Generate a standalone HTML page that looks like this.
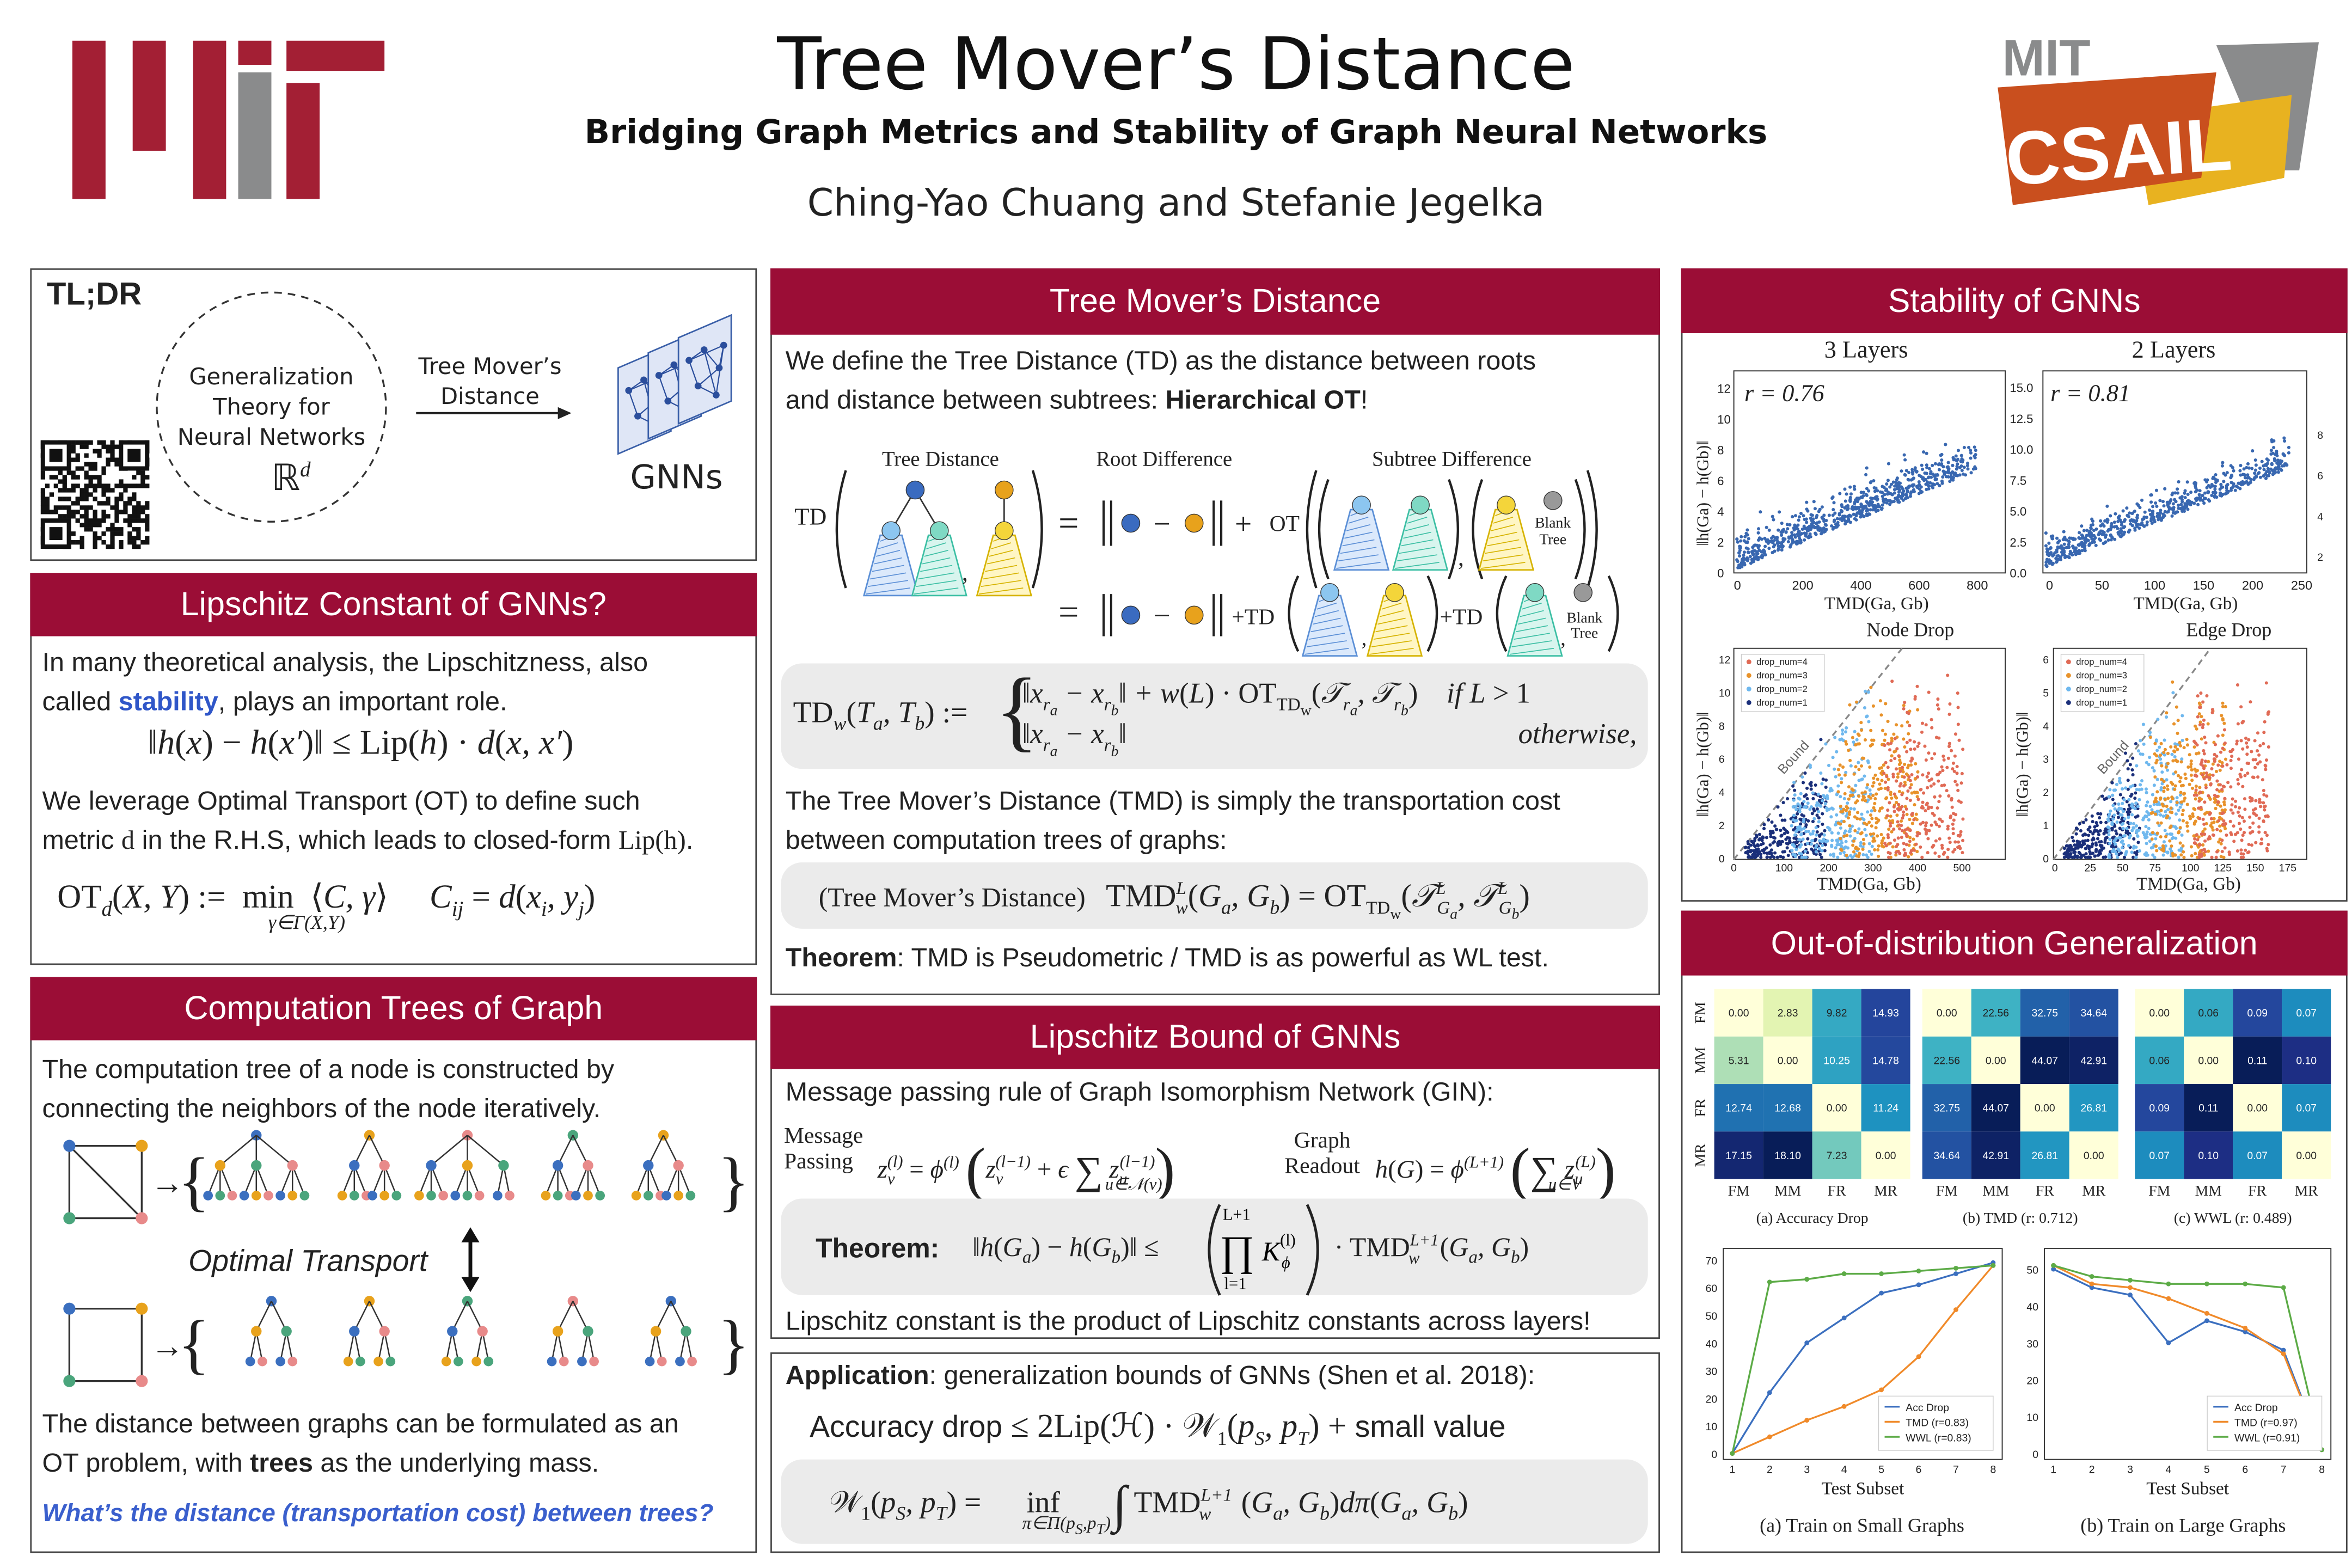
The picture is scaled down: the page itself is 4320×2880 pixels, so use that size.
<!DOCTYPE html>
<html><head><meta charset="utf-8">
<style>
html,body{margin:0;padding:0;background:#fff;width:4320px;height:2880px;overflow:hidden}
#p{position:absolute;left:0;top:0;width:1560px;height:1040px;transform:scale(2.76923);transform-origin:0 0;font-family:"Liberation Sans",sans-serif;color:#222}
.a{position:absolute;white-space:nowrap}
.box{position:absolute;border:1.6px solid #444;background:#fff;box-sizing:border-box}
.hd{position:absolute;background:#9b0d36;color:#fff;font-size:22px;text-align:center;box-sizing:border-box}
.t{font-size:17.5px;color:#222}
.m{font-family:"Liberation Serif",serif}
.i{font-style:italic}
.gb{position:absolute;background:#ebebeb;border-radius:14px}
svg{position:absolute;overflow:visible}
</style></head><body><div id="p">

<!-- MIT logo -->
<div class="a" style="left:48px;top:27px;width:22px;height:105px;background:#a31f34"></div>
<div class="a" style="left:88px;top:27px;width:22px;height:73px;background:#a31f34"></div>
<div class="a" style="left:128px;top:27px;width:22px;height:105px;background:#a31f34"></div>
<div class="a" style="left:158px;top:27px;width:22px;height:16px;background:#a31f34"></div>
<div class="a" style="left:158px;top:48px;width:22px;height:84px;background:#8a8b8c"></div>
<div class="a" style="left:190px;top:27px;width:65px;height:20px;background:#a31f34"></div>
<div class="a" style="left:190px;top:55px;width:22px;height:77px;background:#a31f34"></div>

<!-- Title -->
<div class="a" style="left:0;width:1560px;top:15px;text-align:center;font-size:48px;font-family:'DejaVu Sans',sans-serif;color:#111">Tree Mover’s Distance</div>
<div class="a" style="left:0;width:1560px;top:76px;text-align:center;font-size:22px;font-weight:bold;font-family:'DejaVu Sans',sans-serif;color:#111">Bridging Graph Metrics and Stability of Graph Neural Networks</div>
<div class="a" style="left:0;width:1560px;top:120px;text-align:center;font-size:25px;font-family:'DejaVu Sans',sans-serif;color:#222">Ching-Yao Chuang and Stefanie Jegelka</div>

<!-- CSAIL logo -->
<svg style="left:1320px;top:18px" width="225" height="122">
<text x="8" y="32" font-size="34" font-weight="bold" fill="#8a8b8c" font-family="Liberation Sans">MIT</text>
<polygon points="150,12 218,10 205,95 185,95" fill="#8a8b8c"/>
<polygon points="95,60 200,45 195,100 105,118" fill="#e8b220"/>
<polygon points="5,40 150,30 140,100 15,118" fill="#c94f1e"/>
<text x="10" y="100" font-size="50" font-weight="bold" fill="#fff" font-family="Liberation Sans" transform="rotate(-4 80 80)">CSAIL</text>
</svg>

<!-- TL;DR -->
<div class="box" style="left:20px;top:178px;width:482px;height:194px"></div>
<div class="a" style="left:31px;top:184px;font-size:21px;font-weight:bold">TL;DR</div>
<svg style="left:100px;top:190px" width="160" height="160"><circle cx="80" cy="80" r="76" fill="none" stroke="#333" stroke-width="1.2" stroke-dasharray="5,4"/></svg>
<div class="a" style="left:100px;top:240px;width:160px;text-align:center;font-size:15px;line-height:20px;font-family:'DejaVu Sans',sans-serif">Generalization<br>Theory for<br>Neural Networks</div>
<div class="a m" style="left:180px;top:303px;font-size:24px">ℝ<sup style="font-size:14px" class="i">d</sup></div>
<div class="a" style="left:270px;top:233px;width:110px;text-align:center;font-size:15px;line-height:20px;font-family:'DejaVu Sans',sans-serif">Tree Mover’s<br>Distance</div>
<svg style="left:276px;top:268px" width="105" height="12"><line x1="0" y1="6" x2="96" y2="6" stroke="#222" stroke-width="1.5"/><polygon points="103,6 94,2 94,10" fill="#222"/></svg>
<svg style="left:405px;top:212px" width="85" height="90" id="gnn"></svg>
<div class="a" style="left:418px;top:305px;font-size:22px;font-family:'DejaVu Sans',sans-serif">GNNs</div>
<svg style="left:27px;top:292px" width="72" height="72" id="qr"></svg>

<!-- Lipschitz Constant -->
<div class="box" style="left:20px;top:380px;width:482px;height:260px"></div>
<div class="hd" style="left:20px;top:380px;width:482px;height:42px;line-height:42px">Lipschitz Constant of GNNs?</div>
<div class="a t" style="left:28px;top:426px;line-height:26px">In many theoretical analysis, the Lipschitzness, also<br>called <b style="color:#2f56c8">stability</b>, plays an important role.</div>
<div class="a m" style="left:98px;top:480px;font-size:23px"><span class="i">‖h</span>(<span class="i">x</span>) − <span class="i">h</span>(<span class="i">x′</span>)‖ ≤ Lip(<span class="i">h</span>) · <span class="i">d</span>(<span class="i">x, x′</span>)</div>
<div class="a t" style="left:28px;top:518px;line-height:26px">We leverage Optimal Transport (OT) to define such<br>metric <span class="m">d</span> in the R.H.S, which leads to closed-form <span class="m">Lip(h)</span>.</div>
<div class="a m" style="left:38px;top:582px;font-size:22px">OT<sub style="font-size:14px" class="i">d</sub>(<span class="i">X, Y</span>) := &nbsp;min &nbsp;⟨<span class="i">C, γ</span>⟩ &nbsp;&nbsp;&nbsp;&nbsp;<span class="i">C<sub style="font-size:14px">ij</sub></span> = <span class="i">d</span>(<span class="i">x<sub style="font-size:14px">i</sub>, y<sub style="font-size:14px">j</sub></span>)</div>
<div class="a m i" style="left:178px;top:604px;font-size:13px">γ∈Γ(X,Y)</div>

<!-- Computation Trees -->
<div class="box" style="left:20px;top:648px;width:482px;height:382px"></div>
<div class="hd" style="left:20px;top:648px;width:482px;height:42px;line-height:42px">Computation Trees of Graph</div>
<div class="a t" style="left:28px;top:696px;line-height:26px">The computation tree of a node is constructed by<br>connecting the neighbors of the node iteratively.</div>
<svg style="left:30px;top:748px" width="470" height="180" id="ctree"></svg>
<div class="a i" style="left:125px;top:826px;font-size:20px;font-family:'Liberation Sans',sans-serif">Optimal Transport</div>
<div class="a t" style="left:28px;top:931px;line-height:26px">The distance between graphs can be formulated as an<br>OT problem, with <b>trees</b> as the underlying mass.</div>
<div class="a" style="left:28px;top:995px;font-size:16.5px;font-weight:bold;font-style:italic;color:#3a5fcd">What’s the distance (transportation cost) between trees?</div>

<!-- TMD box -->
<div class="box" style="left:511px;top:178px;width:590px;height:482px"></div>
<div class="hd" style="left:511px;top:178px;width:590px;height:44px;line-height:44px">Tree Mover’s Distance</div>
<div class="a t" style="left:521px;top:226px;line-height:26px">We define the Tree Distance (TD) as the distance between roots<br>and distance between subtrees: <b>Hierarchical OT</b>!</div>
<svg style="left:515px;top:290px" width="585" height="145" id="tdfig"></svg>
<div class="gb" style="left:518px;top:440px;width:575px;height:70px"></div>
<div class="a m" style="left:526px;top:462px;font-size:20px">TD<sub style="font-size:13px" class="i">w</sub>(<span class="i">T<sub style="font-size:13px">a</sub>, T<sub style="font-size:13px">b</sub></span>) :=</div>
<div class="a m" style="left:660px;top:436px;font-size:60px;line-height:70px">{</div>
<div class="a m" style="left:678px;top:450px;font-size:19px"><span class="i">‖x<sub style="font-size:12px">r<sub>a</sub></sub> − x<sub style="font-size:12px">r<sub>b</sub></sub>‖ + w</span>(<span class="i">L</span>) · OT<sub style="font-size:12px">TD<sub>w</sub></sub>(<span class="i">𝒯<sub style="font-size:12px">r<sub>a</sub></sub>, 𝒯<sub style="font-size:12px">r<sub>b</sub></sub></span>) &nbsp;&nbsp;&nbsp;<span class="i">if L</span> &gt; 1</div>
<div class="a m i" style="left:678px;top:477px;font-size:19px">‖x<sub style="font-size:12px">r<sub>a</sub></sub> − x<sub style="font-size:12px">r<sub>b</sub></sub>‖</div>
<div class="a m i" style="left:1007px;top:477px;font-size:19px">otherwise,</div>
<div class="a t" style="left:521px;top:518px;line-height:26px">The Tree Mover’s Distance (TMD) is simply the transportation cost<br>between computation trees of graphs:</div>
<div class="gb" style="left:518px;top:572px;width:575px;height:44px"></div>
<div class="a m" style="left:543px;top:582px;font-size:18px">(Tree Mover’s Distance) &nbsp;&nbsp;<span style="font-size:21px">TMD<sup style="font-size:12px" class="i">L</sup><sub style="font-size:12px;margin-left:-7px" class="i">w</sub>(<span class="i">G<sub style="font-size:13px">a</sub>, G<sub style="font-size:13px">b</sub></span>) = OT<sub style="font-size:12px">TD<sub>w</sub></sub>(<span class="i">𝒯<sup style="font-size:12px">L</sup><sub style="font-size:12px;margin-left:-6px">G<sub>a</sub></sub>, 𝒯<sup style="font-size:12px">L</sup><sub style="font-size:12px;margin-left:-6px">G<sub>b</sub></sub></span>)</span></div>
<div class="a t" style="left:521px;top:625px"><b>Theorem</b>: TMD is Pseudometric / TMD is as powerful as WL test.</div>

<!-- Lipschitz Bound -->
<div class="box" style="left:511px;top:667px;width:590px;height:221px"></div>
<div class="hd" style="left:511px;top:667px;width:590px;height:42px;line-height:42px">Lipschitz Bound of GNNs</div>
<div class="a t" style="left:521px;top:714px">Message passing rule of Graph Isomorphism Network (GIN):</div>
<div class="a m" style="left:520px;top:746px;font-size:15px;line-height:17px">Message<br>Passing</div>
<div class="a m" style="left:582px;top:752px;font-size:17px"><span class="i">z<sub style="font-size:11px">v</sub><sup style="font-size:11px;margin-left:-5px">(l)</sup></span> = <span class="i">ϕ<sup style="font-size:11px">(l)</sup></span> <span style="font-size:40px;vertical-align:-8px">(</span><span class="i">z<sub style="font-size:11px">v</sub><sup style="font-size:11px;margin-left:-5px">(l−1)</sup></span> + <span class="i">ϵ</span> <span style="font-size:26px;vertical-align:-4px">∑</span> <span class="i">z<sub style="font-size:11px">u</sub><sup style="font-size:11px;margin-left:-5px">(l−1)</sup></span><span style="font-size:40px;vertical-align:-8px">)</span></div>
<div class="a m i" style="left:733px;top:779px;font-size:11px">u∈𝒩(v)</div>
<div class="a m" style="left:852px;top:749px;font-size:15px;line-height:17px;text-align:center">Graph<br>Readout</div>
<div class="a m" style="left:912px;top:752px;font-size:17px"><span class="i">h</span>(<span class="i">G</span>) = <span class="i">ϕ<sup style="font-size:11px">(L+1)</sup></span> <span style="font-size:40px;vertical-align:-8px">(</span><span style="font-size:26px;vertical-align:-4px">∑</span> <span class="i">z<sub style="font-size:11px">u</sub><sup style="font-size:11px;margin-left:-5px">(L)</sup></span><span style="font-size:40px;vertical-align:-8px">)</span></div>
<div class="a m i" style="left:1027px;top:779px;font-size:11px">u∈V</div>
<div class="gb" style="left:518px;top:795px;width:575px;height:64px"></div>
<div class="a" style="left:541px;top:818px;font-size:18px;font-weight:bold">Theorem:</div>
<div class="a m" style="left:645px;top:817px;font-size:18px"><span class="i">‖h</span>(<span class="i">G<sub style="font-size:12px">a</sub></span>) − <span class="i">h</span>(<span class="i">G<sub style="font-size:12px">b</sub></span>)‖ ≤</div>
<svg style="left:795px;top:797px" width="90" height="64">
<path d="M14,2 Q0,32 14,62" fill="none" stroke="#222" stroke-width="1.8"/>
<path d="M72,2 Q86,32 72,62" fill="none" stroke="#222" stroke-width="1.8"/>
<text x="16" y="12" font-size="11" font-family="Liberation Serif">L+1</text>
<text x="14" y="42" font-size="28" font-family="Liberation Serif">∏</text>
<text x="17" y="58" font-size="11" font-family="Liberation Serif">l=1</text>
<text x="42" y="39" font-size="18" font-style="italic" font-family="Liberation Serif">K</text>
<text x="55" y="44" font-size="11" font-style="italic" font-family="Liberation Serif">ϕ</text>
<text x="54" y="29" font-size="11" font-family="Liberation Serif">(l)</text>
</svg>
<div class="a m" style="left:885px;top:817px;font-size:18px">· TMD<sup style="font-size:11px" class="i">L+1</sup><sub style="font-size:11px;margin-left:-20px" class="i">w</sub>&nbsp;&nbsp;&nbsp;(<span class="i">G<sub style="font-size:12px">a</sub>, G<sub style="font-size:12px">b</sub></span>)</div>
<div class="a t" style="left:521px;top:866px">Lipschitz constant is the product of Lipschitz constants across layers!</div>

<!-- Application -->
<div class="box" style="left:511px;top:897px;width:590px;height:133px"></div>
<div class="a t" style="left:521px;top:902px"><b>Application</b>: generalization bounds of GNNs (Shen et al. 2018):</div>
<div class="a" style="left:537px;top:933px;font-size:20px">Accuracy drop <span class="m" style="font-size:22px">≤ 2Lip(ℋ) · 𝒲<sub style="font-size:13px">1</sub>(<span class="i">p<sub style="font-size:13px">S</sub>, p<sub style="font-size:13px">T</sub></span>) +</span> small value</div>
<div class="gb" style="left:518px;top:968px;width:575px;height:56px"></div>
<div class="a m" style="left:550px;top:980px;font-size:20px">𝒲<sub style="font-size:13px">1</sub>(<span class="i">p<sub style="font-size:13px">S</sub>, p<sub style="font-size:13px">T</sub></span>) = &nbsp;&nbsp;&nbsp;&nbsp;&nbsp;inf &nbsp;&nbsp;&nbsp;&nbsp;&nbsp;&nbsp;<span style="font-size:34px;vertical-align:-6px">∫</span> TMD<sup style="font-size:12px" class="i">L+1</sup><sub style="font-size:12px;margin-left:-22px" class="i">w</sub>&nbsp;&nbsp;&nbsp;&nbsp;(<span class="i">G<sub style="font-size:13px">a</sub>, G<sub style="font-size:13px">b</sub></span>)<span class="i">dπ</span>(<span class="i">G<sub style="font-size:13px">a</sub>, G<sub style="font-size:13px">b</sub></span>)</div>
<div class="a m i" style="left:678px;top:1003px;font-size:12px">π∈Π(p<sub>S</sub>,p<sub>T</sub>)</div>

<!-- Stability -->
<div class="box" style="left:1115px;top:178px;width:442px;height:420px"></div>
<div class="hd" style="left:1115px;top:178px;width:442px;height:43px;line-height:43px">Stability of GNNs</div>
<svg style="left:1115px;top:222px" width="442" height="375" id="stab"></svg>

<!-- OOD -->
<div class="box" style="left:1115px;top:604px;width:442px;height:426px"></div>
<div class="hd" style="left:1115px;top:604px;width:442px;height:43px;line-height:43px">Out-of-distribution Generalization</div>
<svg style="left:1115px;top:648px" width="442" height="380" id="ood"></svg>

</div>
<script>
const NS="http://www.w3.org/2000/svg";
function E(p,t,a,txt){const e=document.createElementNS(NS,t);for(const k in a)e.setAttribute(k,a[k]);if(txt!==undefined)e.textContent=txt;p.appendChild(e);return e;}
let seed=7;function R(){seed=(seed*16807)%2147483647;return seed/2147483647;}
function G(){return (R()+R()+R()+R()-2)*0.87;}

(function(){const s=document.getElementById('gnn');
for(let k=0;k<3;k++){const ox=k*20,oy=k*-10+12;
E(s,'polygon',{points:`${ox+5},${oy+20} ${ox+40},${oy+5} ${ox+40},${oy+62} ${ox+5},${oy+77}`,fill:'#dfe6f6',stroke:'#3a5fa8','stroke-width':1});
const pts=[[12,35],[22,28],[32,40],[18,52],[30,58],[35,25]];
pts.forEach((p,i)=>{pts.forEach((q,j)=>{if(j>i&&(i+j)%2)E(s,'line',{x1:ox+p[0],y1:oy+p[1],x2:ox+q[0],y2:oy+q[1],stroke:'#2b4e9c','stroke-width':0.8})})});
pts.forEach(p=>E(s,'circle',{cx:ox+p[0],cy:oy+p[1],r:2.3,fill:'#2b4e9c'}));}})();

(function(){const s=document.getElementById('qr');seed=99;
E(s,'rect',{x:0,y:0,width:72,height:72,fill:'#fff'});
const n=25,c=72/n;
for(let i=0;i<n;i++)for(let j=0;j<n;j++){if(R()<0.5)E(s,'rect',{x:i*c,y:j*c,width:c+0.1,height:c+0.1,fill:'#111'});}
[[0,0],[18,0],[0,18]].forEach(([a,b])=>{E(s,'rect',{x:a*c,y:b*c,width:7*c,height:7*c,fill:'#111'});E(s,'rect',{x:(a+1)*c,y:(b+1)*c,width:5*c,height:5*c,fill:'#fff'});E(s,'rect',{x:(a+2)*c,y:(b+2)*c,width:3*c,height:3*c,fill:'#111'});});})();

(function(){const s=document.getElementById('ctree');
const col={b:'#3b6fbf',o:'#e8a21c',g:'#4aa57c',p:'#e88a8a'};
function graph(ox,oy,diag){E(s,'rect',{x:ox,y:oy,width:48,height:48,fill:'none',stroke:'#333','stroke-width':1.2});
if(diag)E(s,'line',{x1:ox,y1:oy,x2:ox+48,y2:oy+48,stroke:'#333','stroke-width':1.2});
E(s,'circle',{cx:ox,cy:oy,r:4,fill:col.b});E(s,'circle',{cx:ox+48,cy:oy,r:4,fill:col.o});E(s,'circle',{cx:ox,cy:oy+48,r:4,fill:col.g});E(s,'circle',{cx:ox+48,cy:oy+48,r:4,fill:col.p});}
function tree(cx,y,root,kids,gk){E(s,'circle',{cx:cx,cy:y,r:3.5,fill:col[root]});
const n=kids.length,w=n==3?24:20;kids.forEach((k,i)=>{const x=cx+(i-(n-1)/2)*w;E(s,'line',{x1:cx,y1:y,x2:x,y2:y+20,stroke:'#333','stroke-width':0.9});
const g=gk[i];g.forEach((q,j)=>{const xx=x+(j-(g.length-1)/2)*8;E(s,'line',{x1:x,y1:y+20,x2:xx,y2:y+40,stroke:'#333','stroke-width':0.9});E(s,'circle',{cx:xx,cy:y+40,r:3.2,fill:col[q]});});
E(s,'circle',{cx:x,cy:y+20,r:3.5,fill:col[k]});});}
graph(16,12,true);
E(s,'text',{x:70,y:44,'font-size':22,fill:'#222'},'→');E(s,'text',{x:88,y:50,'font-size':44,fill:'#222','font-family':'Liberation Serif'},'{');E(s,'text',{x:446,y:50,'font-size':44,fill:'#222','font-family':'Liberation Serif'},'}');
tree(140,5,'b',['o','g','p'],[['b','g','p'],['b','o','p'],['b','o','g']]);
tree(215,5,'o',['b','p'],[['o','g','p'],['b','o','g']]);
tree(280,5,'p',['b','o','g'],[['o','g','p'],['b','g','p'],['b','p']]);
tree(350,5,'g',['b','p'],[['o','g','p'],['b','o','g']]);
tree(410,5,'o',['b','p'],[['o','g','p'],['b','o','g']]);
graph(16,120,false);
E(s,'text',{x:70,y:152,'font-size':22,fill:'#222'},'→');E(s,'text',{x:88,y:158,'font-size':44,fill:'#222','font-family':'Liberation Serif'},'{');E(s,'text',{x:446,y:158,'font-size':44,fill:'#222','font-family':'Liberation Serif'},'}');
tree(150,115,'b',['o','g'],[['b','p'],['b','p']]);
tree(215,115,'o',['b','p'],[['o','g'],['o','g']]);
tree(280,115,'g',['b','p'],[['o','g'],['o','g']]);
tree(350,115,'p',['o','g'],[['b','p'],['b','p']]);
tree(415,115,'b',['o','g'],[['b','p'],['b','p']]);
E(s,'line',{x1:282,y1:72,x2:282,y2:103,stroke:'#111','stroke-width':2.5});
E(s,'polygon',{points:'282,66 276,76 288,76',fill:'#111'});E(s,'polygon',{points:'282,109 276,99 288,99',fill:'#111'});})();

(function(){const s=document.getElementById('tdfig');
const F='Liberation Serif';
function T(x,y,t,sz,extra){return E(s,'text',Object.assign({x:x,y:y,'font-size':sz||15,'font-family':F,fill:'#222'},extra||{}),t);}
T(70,19,'Tree Distance',14);T(212,19,'Root Difference',14);T(395,19,'Subtree Difference',14);
T(12,58,'TD',16);
function par(x,y,h,open){const d=open?`M${x+8},${y} Q${x-4},${y+h/2} ${x+8},${y+h}`:`M${x},${y} Q${x+12},${y+h/2} ${x},${y+h}`;E(s,'path',{d:d,fill:'none',stroke:'#222','stroke-width':1.6});}
function cone(cx,top,c,fill,w){w=w||18;E(s,'polygon',{points:`${cx-w*0.4},${top} ${cx+w*0.4},${top} ${cx+w},${top+40} ${cx-w},${top+40}`,fill:fill,stroke:c,'stroke-width':1});
for(let i=0;i<8;i++){const y=top+5*i;E(s,'line',{x1:cx-w*(0.4+0.6*i/8),y1:y+4,x2:cx+w*(0.4+0.6*i/8)-4,y2:y,stroke:c,'stroke-width':0.6});}}
function dot(x,y,c){E(s,'circle',{cx:x,cy:y,r:6,fill:c,stroke:'#333','stroke-width':0.5});}
const B='#3a6bc0',O='#e8a21c',LB='#8cc6f0',TL='#7fd9c4',Y='#f4d53a',GR='#999';
par(38,22,78,true);
E(s,'line',{x1:92,y1:35,x2:76,y2:62,stroke:'#333'});E(s,'line',{x1:92,y1:35,x2:108,y2:62,stroke:'#333'});
cone(76,65,'#5b8fd6','#dbe9fb');cone(108,65,'#3cbfa4','#d8f5ee');dot(92,35,B);dot(76,62,LB);dot(108,62,TL);
T(123,95,',',16);
E(s,'line',{x1:151,y1:35,x2:151,y2:62,stroke:'#333'});cone(151,65,'#d6b300','#fff6c4');dot(151,35,O);dot(151,62,Y);
par(170,22,78,false);
T(187,65,'=',24);
E(s,'line',{x1:217,y1:42,x2:217,y2:72,stroke:'#222','stroke-width':1.5});E(s,'line',{x1:222,y1:42,x2:222,y2:72,stroke:'#222','stroke-width':1.5});
dot(235,57,B);T(250,64,'−',20);dot(277,57,O);
E(s,'line',{x1:290,y1:42,x2:290,y2:72,stroke:'#222','stroke-width':1.5});E(s,'line',{x1:295,y1:42,x2:295,y2:72,stroke:'#222','stroke-width':1.5});
T(304,64,'+',20);T(327,62,'OT',15);
par(350,22,78,true);par(358,28,66,true);
cone(388,48,'#5b8fd6','#dbe9fb');dot(388,45,LB);cone(427,48,'#3cbfa4','#d8f5ee');dot(427,45,TL);
par(446,28,66,false);T(452,85,',',16);par(460,28,66,true);
cone(484,48,'#d6b300','#fff6c4');dot(484,45,Y);dot(515,42,GR);T(503,60,'Blank',10);T(506,71,'Tree',10);
par(530,28,66,false);par(538,22,78,false);
T(187,124,'=',24);
E(s,'line',{x1:217,y1:104,x2:217,y2:132,stroke:'#222','stroke-width':1.5});E(s,'line',{x1:222,y1:104,x2:222,y2:132,stroke:'#222','stroke-width':1.5});
dot(235,118,B);T(250,125,'−',20);dot(277,118,O);
E(s,'line',{x1:290,y1:104,x2:290,y2:132,stroke:'#222','stroke-width':1.5});E(s,'line',{x1:295,y1:104,x2:295,y2:132,stroke:'#222','stroke-width':1.5});
T(302,124,'+TD',15);par(338,92,50,true);cone(367,105,'#5b8fd6','#dbe9fb');dot(367,103,LB);T(388,138,',',14);cone(410,105,'#d6b300','#fff6c4');dot(410,103,Y);par(432,92,50,false);
T(440,124,'+TD',15);par(476,92,50,true);cone(503,105,'#3cbfa4','#d8f5ee');dot(503,103,TL);T(520,138,',',14);dot(535,103,GR);T(524,123,'Blank',10);T(527,133,'Tree',10);par(552,92,50,false);})();

const stops=['#ffffd9','#edf8b1','#c7e9b4','#7fcdbb','#41b6c4','#1d91c0','#225ea8','#253494','#081d58'].map(h=>[parseInt(h.substr(1,2),16),parseInt(h.substr(3,2),16),parseInt(h.substr(5,2),16)]);
function cm(t){t=Math.max(0,Math.min(1,t))*8;const i=Math.min(7,Math.floor(t)),f=t-i;const a=stops[i],b=stops[i+1];return `rgb(${a.map((v,k)=>Math.round(v+(b[k]-v)*f)).join(',')})`;}

(function(){const s=document.getElementById('stab');const F='Liberation Serif';
function T(x,y,t,sz,ex){return E(s,'text',Object.assign({x:x,y:y,'font-size':sz,'font-family':F,fill:'#222'},ex||{}),t);}
T(95,15,'3 Layers',16);T(299,15,'2 Layers',16);
function axes(x,y,w,h){E(s,'rect',{x:x,y:y,width:w,height:h,fill:'#fff',stroke:'#333','stroke-width':0.7});}
seed=11;axes(35,24,180,134);
for(let i=0;i<700;i++){const u=Math.pow(R(),1.1);const v=Math.max(0.02,Math.min(0.97,u*0.5+Math.abs(G())*0.16+0.02));E(s,'circle',{cx:37+u*0.9*176,cy:24+134-v*130,r:1.1,fill:'#3867b0'});}
T(42,44,'r = 0.76',16,{'font-style':'italic'});
[[0,'0'],[200,'200'],[400,'400'],[600,'600'],[800,'800']].forEach(([v,l])=>T(43+v*0.193-8,169,l,8.5,{'font-family':'Liberation Sans'}));
[0,2,4,6,8,10,12].forEach(v=>T(24,158-v*10.2+3,String(v),8,{'font-family':'Liberation Sans'}));
T(95,182,'TMD(Ga, Gb)',12);
T(0,0,'‖h(Ga) − h(Gb)‖',11,{transform:'translate(18,140) rotate(-90)'});
axes(240,24,175,134);
for(let i=0;i<600;i++){const u=Math.pow(R(),1.2);const v=Math.max(0.02,Math.min(0.97,u*0.5+Math.abs(G())*0.14+0.03));E(s,'circle',{cx:242+u*0.95*170,cy:158-v*130,r:1.1,fill:'#3867b0'});}
T(245,44,'r = 0.81',16,{'font-style':'italic'});
['0','50','100','150','200','250'].forEach((l,i)=>T(247+i*32.5-5,169,l,8.5,{'font-family':'Liberation Sans'}));
['0.0','2.5','5.0','7.5','10.0','12.5','15.0'].forEach((l,i)=>T(218,158-i*20.5+3,l,8,{'font-family':'Liberation Sans'}));
[2,4,6,8].forEach((l,i)=>T(422,150-i*27,String(l),7,{'font-family':'Liberation Sans'}));
T(300,182,'TMD(Ga, Gb)',12);
T(123,200,'Node Drop',13);T(335,200,'Edge Drop',13);
function bot(x,w,sd){seed=sd;axes(x,208,w,140);
E(s,'line',{x1:x,y1:348,x2:x+w*0.62,y2:208,stroke:'#888','stroke-dasharray':'4,3','stroke-width':1.2});
const cols=['#1a2f7a','#6fb8ee','#e8922a','#e06a55'];
for(let c=0;c<4;c++)for(let i=0;i<260;i++){const u=0.05+c*0.2+R()*0.35;const lim=(u/0.62);let v=Math.max(0.01,R()*Math.min(lim,0.9)*(0.4+0.6*R()));E(s,'circle',{cx:x+Math.min(0.97,u*0.85)*w,cy:348-v*138,r:1.1,fill:cols[c]});}
E(s,'rect',{x:x+5,y:212,width:55,height:38,fill:'#fff',stroke:'#ccc','stroke-width':0.5});
['drop_num=4','drop_num=3','drop_num=2','drop_num=1'].forEach((l,i)=>{E(s,'circle',{cx:x+10,cy:217+i*9,r:1.6,fill:cols[3-i]});T(x+15,219+i*9,l,6,{'font-family':'Liberation Sans'});});
T(0,0,'Bound',9,{'font-family':'Liberation Sans',fill:'#666',transform:`translate(${x+33},${292}) rotate(-48)`});
T(0,0,'‖h(Ga) − h(Gb)‖',11,{transform:`translate(${x-17},${320}) rotate(-90)`});
T(x+55,368,'TMD(Ga, Gb)',12);}
bot(35,180,21);bot(247,168,33);
['0','100','200','300','400','500'].forEach((l,i)=>T(33+i*29.5,356,l,7,{'font-family':'Liberation Sans'}));
['0','25','50','75','100','125','150','175'].forEach((l,i)=>T(246+i*21.5,356,l,7,{'font-family':'Liberation Sans'}));
['0','2','4','6','8','10','12'].forEach((l,i)=>T(25,350-i*22,l,7,{'font-family':'Liberation Sans'}));
['0','1','2','3','4','5','6'].forEach((l,i)=>T(240,350-i*22,l,7,{'font-family':'Liberation Sans'}));})();

(function(){const s=document.getElementById('ood');const F='Liberation Serif';
function T(x,y,t,sz,ex){return E(s,'text',Object.assign({x:x,y:y,'font-size':sz,'font-family':F,fill:'#222'},ex||{}),t);}
const D=[[[0,2.83,9.82,14.93],[5.31,0,10.25,14.78],[12.74,12.68,0,11.24],[17.15,18.10,7.23,0]],
[[0,22.56,32.75,34.64],[22.56,0,44.07,42.91],[32.75,44.07,0,26.81],[34.64,42.91,26.81,0]],
[[0,.06,.09,.07],[.06,0,.11,.10],[.09,.11,0,.07],[.07,.10,.07,0]]];
const mx=[18.1,44.07,0.11],xs=[22,160,301],labs=['FM','MM','FR','MR'],caps=['(a) Accuracy Drop','(b) TMD (r: 0.712)','(c) WWL (r: 0.489)'];
D.forEach((m,k)=>{const ox=xs[k],cw=32.5,ch=31.5;m.forEach((r,i)=>r.forEach((v,j)=>{const t=v/mx[k];E(s,'rect',{x:ox+j*cw,y:8+i*ch,width:cw,height:ch,fill:cm(t)});
T(ox+j*cw+cw/2,8+i*ch+ch/2+2.5,v.toFixed(2),7,{'text-anchor':'middle','font-family':'Liberation Sans',fill:t>0.55?'#fff':'#222'});}));
labs.forEach((l,i)=>{T(ox+i*cw+cw/2,145,l,10,{'text-anchor':'middle'});if(k==0)T(0,0,l,10,{'text-anchor':'middle',transform:`translate(${ox-6},${8+i*ch+ch/2}) rotate(-90)`});});
T(ox+65,163,caps[k],10,{'text-anchor':'middle'});});
function lc(ox,w,ymax,yt,data,leg){const oy=180,h=140;E(s,'rect',{x:ox,y:oy,width:w,height:h,fill:'#fff',stroke:'#333','stroke-width':0.7});
const X=i=>ox+6+i*(w-12)/7,Y=v=>oy+h-4-v*(h-8)/ymax;
const cols=['#3b6fbf','#f08a2a','#5cab46'];
data.forEach((d,c)=>{E(s,'polyline',{points:d.map((v,i)=>X(i)+','+Y(v)).join(' '),fill:'none',stroke:cols[c],'stroke-width':1.2});d.forEach((v,i)=>E(s,'circle',{cx:X(i),cy:Y(v),r:1.6,fill:cols[c]}));});
yt.forEach(v=>T(ox-4,Y(v)+3,String(v),7,{'text-anchor':'end','font-family':'Liberation Sans'}));
for(let i=0;i<8;i++)T(X(i),oy+h+9,String(i+1),7,{'text-anchor':'middle','font-family':'Liberation Sans'});
E(s,'rect',{x:ox+w-82,y:oy+h-42,width:76,height:36,fill:'#fff',stroke:'#ccc','stroke-width':0.5});
leg.forEach((l,i)=>{E(s,'line',{x1:ox+w-78,y1:oy+h-35+i*10,x2:ox+w-68,y2:oy+h-35+i*10,stroke:cols[i],'stroke-width':1.2});T(ox+w-64,oy+h-32+i*10,l,7,{'font-family':'Liberation Sans'});});
T(ox+w/2,oy+h+23,'Test Subset',12,{'text-anchor':'middle'});}
lc(28,185,72,[0,10,20,30,40,50,60,70],[[0,22,40,49,58,61,65,69],[0,6,12,17,23,35,52,68],[0,62,63,65,65,66,67,68]],['Acc Drop','TMD (r=0.83)','WWL (r=0.83)']);
lc(241,190,54,[0,10,20,30,40,50],[[50,45,43,30,36,33,28,1],[51,46,45,42,38,34,27,1],[51,48,47,46,46,46,45,1]],['Acc Drop','TMD (r=0.97)','WWL (r=0.91)']);
T(120,368,'(a) Train on Small Graphs',13,{'text-anchor':'middle'});T(333,368,'(b) Train on Large Graphs',13,{'text-anchor':'middle'});})();
</script>
</body></html>
